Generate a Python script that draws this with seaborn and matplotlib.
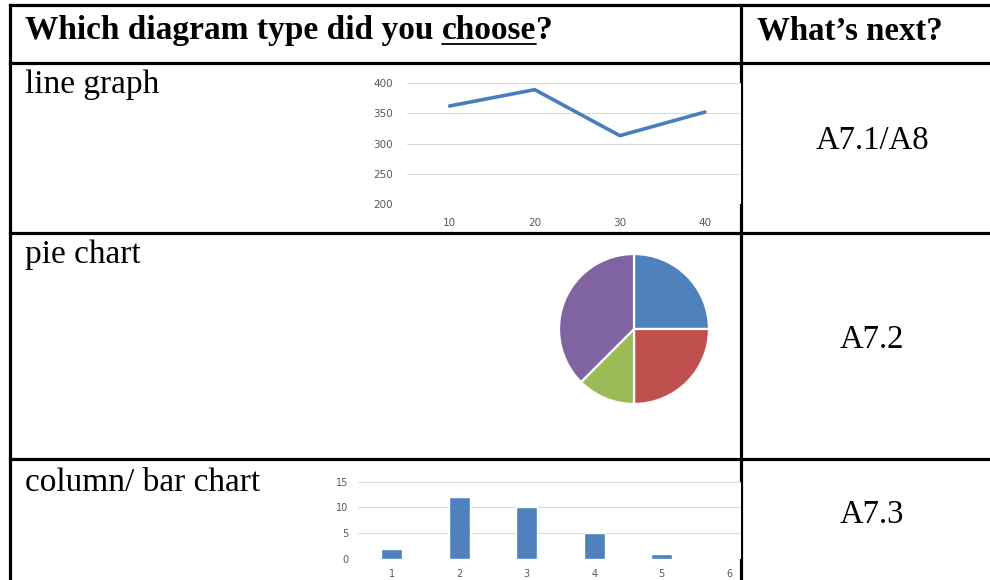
import matplotlib
matplotlib.use("Agg")
import matplotlib.pyplot as plt
import seaborn as sns
import pandas as pd

# table text
header_left = ["Which diagram type did you ", "choose", "?"]
header_right = "What\u2019s next?"
row_names = ["line graph", "pie chart", "column/ bar chart"]
row_next = ["A7.1/A8", "A7.2", "A7.3"]

# mini chart data
line_x = ["10", "20", "30", "40"]
line_y = [362, 389, 313, 352]
pie_vals = [2, 2, 1, 3]
pie_colors = ["#4F81BD", "#C0504D", "#9BBB59", "#8064A2"]
bar_x = ["1", "2", "3", "4", "5", "6"]
bar_y = [2, 12, 10, 5, 1, 0]

W, H = 990, 580
sns.set_style("white")
plt.rcParams["font.family"] = ["Liberation Serif", "DejaVu Serif"]
plt.rcParams["text.color"] = "black"
fig = plt.figure(figsize=(W / 100, H / 100), dpi=100)


def px(x0, y0, x1, y1):
    return [x0 / W, 1 - y1 / H, (x1 - x0) / W, (y1 - y0) / H]


ax0 = fig.add_axes([0, 0, 1, 1])
ax0.set_xlim(0, W)
ax0.set_ylim(H, 0)
ax0.axis("off")

# table grid
lw = 2.3
for y in [5, 63, 233, 459]:
    ax0.plot([10, W], [y, y], color="black", lw=lw, solid_capstyle="projecting")
for x in [10, 741]:
    ax0.plot([x, x], [5, H], color="black", lw=lw, solid_capstyle="projecting")

# header
hx = 25
parts = []
for s in header_left:
    t = ax0.text(hx, 39, s, fontsize=24, fontweight="bold", va="baseline", ha="left")
    fig.canvas.draw()
    bb = t.get_window_extent().transformed(ax0.transData.inverted())
    parts.append((t, bb))
    hx = bb.x1
cb = parts[1][1]
ax0.plot([cb.x0, cb.x1], [43.5, 43.5], color="black", lw=1.3)
ax0.text(757, 39, header_right, fontsize=23.7, fontweight="bold", va="baseline", ha="left")

# row labels
for name, yb in zip(row_names, [93, 263, 491]):
    ax0.text(25, yb, name, fontsize=24, va="baseline", ha="left")
for nxt, yb in zip(row_next, [149, 348, 523]):
    ax0.text(872, yb, nxt, fontsize=23.5, va="baseline", ha="center")

tick_kw = dict(labelsize=7.5, labelcolor="#595959", length=0)

# line graph
ax1 = fig.add_axes(px(407, 83, 741, 204))
df_line = pd.DataFrame({"x": line_x, "y": line_y})
sns.lineplot(data=df_line, x="x", y="y", ax=ax1, color="#4A7EBB", lw=2.6, sort=False)
ax1.set_xlim(-0.5, 3.5 - 6.5 / 85)
ax1.set_ylim(200, 400)
ax1.set_yticks([200, 250, 300, 350, 400])
ax1.grid(axis="y", color="#D9D9D9", lw=0.8)
ax1.set_axisbelow(True)
for s in ax1.spines.values():
    s.set_visible(False)
ax1.tick_params(axis="x", pad=10, labelfontfamily="DejaVu Sans", **tick_kw)
ax1.tick_params(axis="y", pad=10, labelfontfamily="DejaVu Sans", **tick_kw)
ax1.set_xlabel("")
ax1.set_ylabel("")

# pie chart
ax2 = fig.add_axes(px(559, 254, 709, 404))
ax2.pie(pie_vals, colors=pie_colors, startangle=90, counterclock=False,
        wedgeprops=dict(edgecolor="white", linewidth=1.6))
ax2.set_xlim(-1.0, 1.0)
ax2.set_ylim(-1.0, 1.0)
ax2.set_aspect("equal")

# bar chart
ax3 = fig.add_axes(px(358, 481.7, 741, 559))
df_bar = pd.DataFrame({"x": bar_x, "y": bar_y})
sns.barplot(data=df_bar, x="x", y="y", ax=ax3, color="#4F81BD", width=0.31, saturation=1)
ax3.set_xlim(-0.5, -0.5 + (741 - 358) / 67.5)
ax3.set_ylim(0, 15)
ax3.set_yticks([0, 5, 10, 15])
ax3.grid(axis="y", color="#D9D9D9", lw=0.8)
ax3.set_axisbelow(True)
for s in ax3.spines.values():
    s.set_visible(False)
ax3.tick_params(axis="x", pad=7.5, labelfontfamily="DejaVu Sans", labelsize=7, labelcolor="#595959", length=0)
ax3.tick_params(axis="y", pad=7, labelfontfamily="DejaVu Sans", labelsize=7, labelcolor="#595959", length=0)
ax3.set_xlabel("")
ax3.set_ylabel("")

fig.savefig("out.png", dpi=100)
